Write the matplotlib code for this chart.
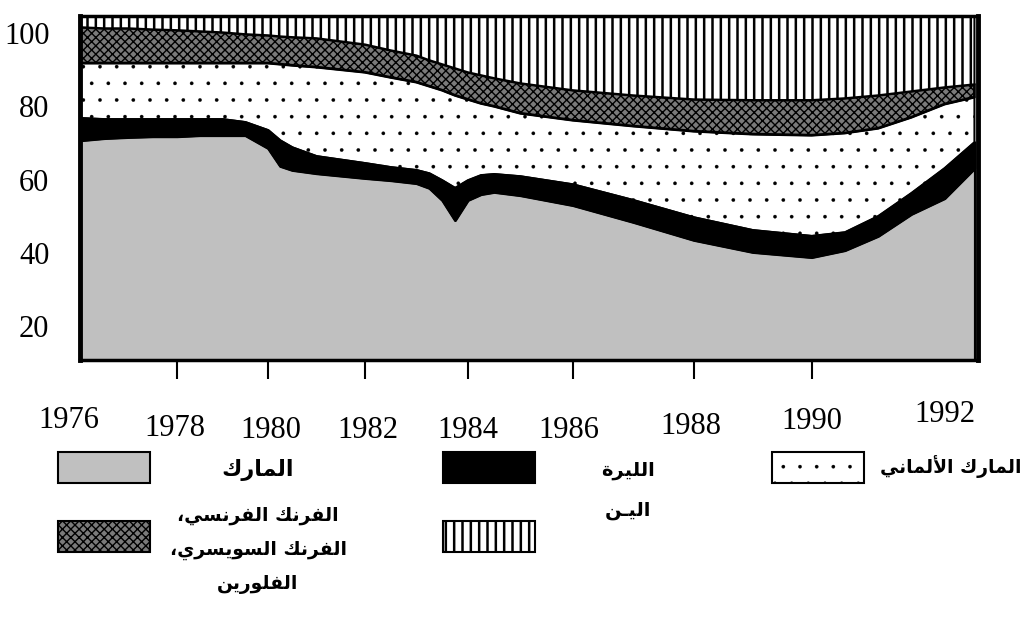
import numpy as np
import matplotlib
matplotlib.use('Agg')
import matplotlib.pyplot as plt
from matplotlib.patches import Rectangle
from matplotlib.transforms import ScaledTranslation

# values (percent, stacked bottom -> top)
years = [1976, 1976.5, 1977, 1977.5, 1978, 1978.5, 1979, 1979.5, 1980, 1980.25,
         1980.5, 1981, 1982, 1982.5, 1983, 1983.25, 1983.5, 1983.75, 1984, 1984.25,
         1984.5, 1985, 1986, 1987, 1988, 1989, 1990, 1990.5, 1991, 1991.5,
         1992, 1992.45]
mark = [70.7, 71.3, 71.6, 71.8, 71.8, 72.1, 72.1, 72.1, 68.6, 63.7,
        62.6, 61.7, 60.4, 59.8, 59.0, 57.7, 54.4, 48.9, 54.4, 56.0,
        56.6, 55.7, 53.0, 48.4, 43.5, 40.2, 38.8, 40.7, 44.6, 50.6,
        54.9, 63.1]
lira = [6.1, 5.2, 4.9, 4.7, 4.7, 4.4, 4.4, 3.6, 4.9, 7.0,
        6.2, 4.7, 4.1, 3.6, 3.6, 4.0, 5.4, 8.8, 5.4, 5.2,
        4.9, 5.2, 5.7, 6.0, 6.2, 6.0, 5.8, 4.9, 5.4, 5.7,
        8.2, 7.1]
dmark = [15.0, 15.3, 15.3, 15.3, 15.3, 15.3, 15.3, 16.1, 18.3, 20.8,
         22.4, 24.3, 24.8, 24.5, 24.0, 23.8, 24.6, 25.3, 22.1, 19.6,
         18.5, 17.2, 17.5, 20.2, 23.5, 26.2, 27.5, 27.1, 24.0, 20.7,
         17.5, 12.3]
francs = [9.8, 9.5, 9.5, 9.2, 9.0, 8.7, 8.4, 7.9, 7.6, 7.6,
          7.7, 7.9, 7.6, 7.4, 7.3, 7.1, 7.1, 7.4, 7.4, 7.7,
          7.7, 8.2, 8.2, 8.4, 8.7, 9.3, 9.6, 9.5, 9.0, 7.1,
          4.6, 3.5]
yen = [3.0, 3.3, 3.3, 3.6, 3.8, 4.1, 4.4, 4.9, 5.2, 5.5,
       5.7, 6.0, 7.7, 9.3, 10.7, 12.0, 13.1, 14.2, 15.3, 16.1,
       16.9, 18.3, 20.2, 21.6, 22.7, 22.9, 22.9, 22.4, 21.6, 20.5,
       19.4, 18.6]

tick_years = [1976, 1978, 1980, 1982, 1984, 1986, 1988, 1990, 1992]
y_ticks = [20, 40, 60, 80, 100]

labels_ar = ['المارك', 'الليرة', 'المارك الألماني',
             'الفرنك الفرنسي،\nالفرنك السويسري،\nالفلورين', 'اليـن']

# --- tiny arabic shaper (no bidi/reshaper libs available) ---
FORMS = {
    'ا': ('\uFE8D', '\uFE8E', None, None),
    'أ': ('\uFE83', '\uFE84', None, None),
    'ة': ('\uFE93', '\uFE94', None, None),
    'ر': ('\uFEAD', '\uFEAE', None, None),
    'و': ('\uFEED', '\uFEEE', None, None),
    'س': ('\uFEB1', '\uFEB2', '\uFEB3', '\uFEB4'),
    'ف': ('\uFED1', '\uFED2', '\uFED3', '\uFED4'),
    'ك': ('\uFED9', '\uFEDA', '\uFEDB', '\uFEDC'),
    'ل': ('\uFEDD', '\uFEDE', '\uFEDF', '\uFEE0'),
    'م': ('\uFEE1', '\uFEE2', '\uFEE3', '\uFEE4'),
    'ن': ('\uFEE5', '\uFEE6', '\uFEE7', '\uFEE8'),
    'ي': ('\uFEF1', '\uFEF2', '\uFEF3', '\uFEF4'),
    'ـ': ('ـ', 'ـ', 'ـ', 'ـ'),
}
LAM_ALEF = {'ا': ('\uFEFB', '\uFEFC'), 'أ': ('\uFEF7', '\uFEF8')}


def shape_line(text):
    out = []
    i = 0
    n = len(text)
    while i < n:
        c = text[i]
        if c not in FORMS:
            out.append(c)
            i += 1
            continue
        prev = text[i - 1] if i > 0 else None
        p = prev in FORMS and FORMS[prev][2] is not None
        if c == 'ل' and i + 1 < n and text[i + 1] in LAM_ALEF:
            out.append(LAM_ALEF[text[i + 1]][1 if p else 0])
            i += 2
            continue
        nx = text[i + 1] if i + 1 < n else None
        q = FORMS[c][2] is not None and nx in FORMS
        iso, fin, ini, med = FORMS[c]
        out.append(med if (p and q) else fin if p else ini if q else iso)
        i += 1
    return ''.join(reversed(out))


def shape(text):
    return '\n'.join(shape_line(t) for t in text.split('\n'))


# irregular year axis, as drawn in the original
knot_years = [1900, 1976, 1978, 1980, 1982, 1984, 1986, 1988, 1990, 1992, 2100]
knot_pos = [-3606, 80, 177, 268, 365, 468, 573, 694, 812, 945, 8127]


def fwd(x):
    return np.interp(np.asarray(x, float), knot_years, knot_pos)


def inv(x):
    return np.interp(np.asarray(x, float), knot_pos, knot_years)


def hatch_lw(artist, lw):
    if hasattr(artist, 'set_hatch_linewidth'):
        artist.set_hatch_linewidth(lw)


serif = 'Liberation Serif'
# fill styles: (facecolor, hatch, hatch linewidth)
styles = [
    ('#c0c0c0', None, 1.0),
    ('black', None, 1.0),
    ('white', '.', 0.2),
    ('#7a7a7a', 'xxxx', 1.0),
    ('white', '||', 1.8),
]

fig = plt.figure(figsize=(10.26, 6.24), dpi=100)
ax = fig.add_axes([0.078, 0.423, 0.875, 0.551])
ax.set_xscale('function', functions=(fwd, inv))

x = np.array(years)
b0 = np.zeros(len(x))
b1 = b0 + np.array(mark)
b2 = b1 + np.array(lira)
b3 = b2 + np.array(dmark)
b4 = b3 + np.array(francs)
b5 = b4 + np.array(yen)
bounds = [b0, b1, b2, b3, b4, b5]
edge_lw = [1.5, 2, 1.5, 2, 1.5]

for k, (fc, hatch, hlw) in enumerate(styles):
    plt.rcParams['hatch.linewidth'] = hlw
    coll = ax.fill_between(x, bounds[k], bounds[k + 1], facecolor=fc, hatch=hatch,
                           edgecolor='black', linewidth=edge_lw[k], zorder=3 if k == 1 else 2)
    hatch_lw(coll, hlw)

ax.set_xlim(1976, 1992.5)
ax.set_ylim(10.7, 104.6)

for side, lw in [('left', 3.5), ('right', 3.5), ('bottom', 2.5), ('top', 2.5)]:
    ax.spines[side].set_linewidth(lw)
    ax.spines[side].set_zorder(5)

ax.set_yticks(y_ticks)
ax.set_yticklabels([str(v) for v in y_ticks], fontsize=22, family=serif)
ax.tick_params(axis='y', direction='in', length=17, width=1.5, pad=22)
ax.yaxis.get_major_ticks()[-1].tick1line.set_visible(False)

ax.set_xticks(tick_years)
ax.set_xticklabels([str(v) for v in tick_years], fontsize=22, family=serif)
ax.tick_params(axis='x', direction='out', length=14, width=1.5, pad=26)
xt = ax.xaxis.get_major_ticks()
xt[0].tick1line.set_visible(False)
xt[-1].tick1line.set_visible(False)

# staggered year labels (pixel shifts)
shifts = [(-11, 10), (-2, 2), (3, 0), (3, 0), (0, 0), (-4, 0), (-3, 4), (0, 9), (0, 16)]
for lab, (dx, dy) in zip(ax.get_xticklabels(), shifts):
    lab.set_transform(lab.get_transform() + ScaledTranslation(dx / 100, dy / 100, fig.dpi_scale_trans))

# legend, right to left
W, H = 1026, 624
swatches = [(58, 452), (443, 452), (772, 452), (58, 521), (443, 521)]
for (sx, sy), (fc, hatch, hlw) in zip(swatches, styles):
    plt.rcParams['hatch.linewidth'] = hlw
    r = Rectangle((sx / W, 1 - (sy + 31) / H), 92 / W, 31 / H, transform=fig.transFigure,
                  facecolor=fc, hatch=hatch, edgecolor='black', linewidth=1.5)
    hatch_lw(r, hlw)
    fig.add_artist(r)

text_pos = [(258, 470, 'center', 16), (628, 470, 'center', 14), (1021, 467, 'right', 13.5),
            (258, 550, 'center', 13.5), (628, 511, 'center', 14)]
for lab, (tx, ty, ha, fs) in zip(labels_ar, text_pos):
    fig.text(tx / W, 1 - ty / H, shape(lab), ha=ha, va='center',
             fontsize=fs, fontweight='bold', family=['DejaVu Sans'],
             multialignment='center', linespacing=1.95)

fig.savefig('out.png', dpi=100)
